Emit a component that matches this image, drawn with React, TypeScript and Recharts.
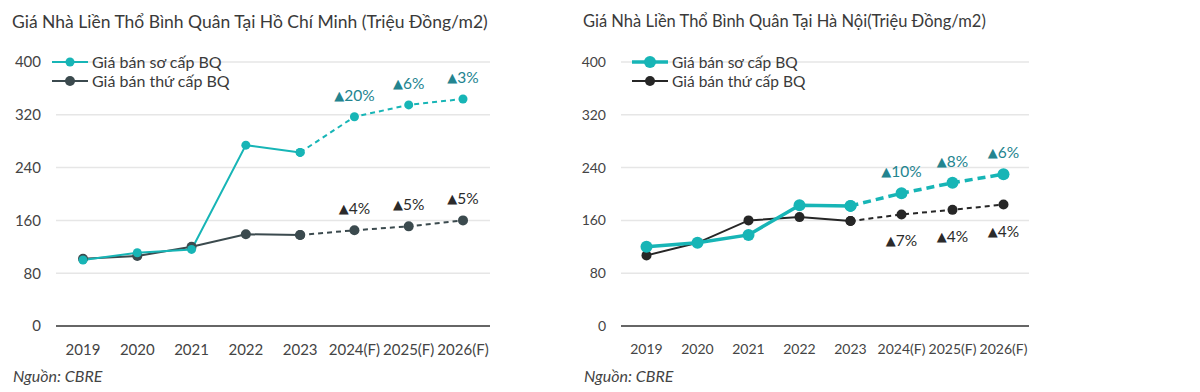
import { LineChart, Line, XAxis, YAxis, CartesianGrid, LabelList } from "recharts";

const years = ["2019", "2020", "2021", "2022", "2023", "2024(F)", "2025(F)", "2026(F)"];
const yTicks = [0, 80, 160, 240, 320, 400];

// Hồ Chí Minh
const hcmPrimary = [100, 111, 116, 274, 263, 317, 335, 344];
const hcmSecondary = [102, 106, 120, 139, 138, 145, 151, 160];
const hcmPrimaryChange = ["", "", "", "", "", "20%", "6%", "3%"];
const hcmSecondaryChange = ["", "", "", "", "", "4%", "5%", "5%"];

// Hà Nội
const hnPrimary = [120, 126, 138, 183, 182, 201, 217, 230];
const hnSecondary = [107, 126, 160, 165, 159, 169, 176, 184];
const hnPrimaryChange = ["", "", "", "", "", "10%", "8%", "6%"];
const hnSecondaryChange = ["", "", "", "", "", "7%", "4%", "4%"];

const LAST_ACTUAL = 4; // 2023
const TEAL = "#17b5b6";
const TEAL_TEXT = "#23848f";
const FONT = "Lato, 'Open Sans', sans-serif";

function buildRows(primary: number[], secondary: number[], pChg: string[], sChg: string[]) {
  return years.map((year, i) => ({
    year,
    pActual: i <= LAST_ACTUAL ? primary[i] : null,
    pForecast: i >= LAST_ACTUAL ? primary[i] : null,
    sActual: i <= LAST_ACTUAL ? secondary[i] : null,
    sForecast: i >= LAST_ACTUAL ? secondary[i] : null,
    pChg: pChg[i],
    sChg: sChg[i],
  }));
}

function changeLabel(color: string, dy: number) {
  return (props: any) => {
    const { x, y, value } = props;
    if (!value) return null;
    return (
      <text
        x={x}
        y={y + dy}
        textAnchor="middle"
        dominantBaseline="central"
        fill={color}
        fontSize={15.5}
        fontFamily={FONT}
      >
        <tspan fontSize={13} fontFamily="DejaVu Sans">▲</tspan>
        <tspan>{value}</tspan>
      </text>
    );
  };
}

interface PanelProps {
  left: number;
  width: number;
  title: string;
  titleSize: number;
  titleTop: number;
  rows: ReturnType<typeof buildRows>;
  axisWidth: number;
  rightMargin: number;
  pad: number;
  tickSize: number;
  darkColor: string;
  primaryWidth: number;
  primaryDot: number;
  secondaryDot: number;
  primaryDash: string;
  secondaryBelow: boolean;
  legendLeft: number;
  legendSize: number;
}

function Panel(p: PanelProps) {
  const textLeft = p.left === 0 ? 12 : 3;
  return (
    <div style={{ position: "absolute", left: p.left, top: 0, width: p.width, height: 392 }}>
      <div
        style={{
          position: "absolute",
          left: textLeft,
          top: p.titleTop,
          fontSize: p.titleSize,
          color: "#3a3a3a",
          whiteSpace: "nowrap",
          lineHeight: 1.2,
        }}
      >
        {p.title}
      </div>
      <LineChart
        width={p.width}
        height={392}
        data={p.rows}
        margin={{ top: 62, right: p.rightMargin, left: 0, bottom: 36 }}
      >
        <CartesianGrid vertical={false} stroke="#e6e6e6" strokeWidth={1.5} />
        <XAxis
          dataKey="year"
          height={30}
          padding={{ left: p.pad, right: p.pad }}
          tickLine={false}
          tickSize={0}
          tickMargin={18}
          axisLine={{ stroke: "#666", strokeWidth: 2 }}
          tick={{ fill: "#444", fontSize: p.tickSize, fontFamily: FONT }}
          interval={0}
        />
        <YAxis
          width={p.axisWidth}
          domain={[0, 400]}
          ticks={yTicks}
          axisLine={false}
          tickLine={false}
          tickSize={0}
          tickMargin={15}
          tick={{ fill: "#444", fontSize: p.tickSize, fontFamily: FONT }}
        />
        <Line
          dataKey="sForecast"
          stroke={p.darkColor}
          strokeWidth={2}
          strokeDasharray="5 4"
          dot={{ r: p.secondaryDot, fill: p.darkColor, stroke: p.darkColor, strokeWidth: 0 }}
          isAnimationActive={false}
        >
          <LabelList dataKey="sChg" content={changeLabel("#2b2b2b", p.secondaryBelow ? 26 : -22)} />
        </Line>
        <Line
          dataKey="sActual"
          stroke={p.darkColor}
          strokeWidth={2}
          dot={{ r: p.secondaryDot, fill: p.darkColor, stroke: p.darkColor, strokeWidth: 0 }}
          isAnimationActive={false}
        />
        <Line
          dataKey="pForecast"
          stroke={TEAL}
          strokeWidth={p.primaryWidth}
          strokeDasharray={p.primaryDash}
          dot={{ r: p.primaryDot, fill: TEAL, stroke: TEAL, strokeWidth: 0 }}
          isAnimationActive={false}
        >
          <LabelList dataKey="pChg" content={changeLabel(TEAL_TEXT, -22)} />
        </Line>
        <Line
          dataKey="pActual"
          stroke={TEAL}
          strokeWidth={p.primaryWidth}
          dot={{ r: p.primaryDot, fill: TEAL, stroke: TEAL, strokeWidth: 0 }}
          isAnimationActive={false}
        />
      </LineChart>
      <div style={{ position: "absolute", left: p.legendLeft, top: 52 }}>
        {[
          { name: "Giá bán sơ cấp BQ", color: TEAL, w: p.primaryWidth, r: p.primaryDot },
          { name: "Giá bán thứ cấp BQ", color: p.darkColor, w: 2, r: p.secondaryDot },
        ].map((item) => (
          <div key={item.name} style={{ display: "flex", alignItems: "center", height: 19 }}>
            <svg width={38} height={14}>
              <line x1={0} y1={7} x2={36} y2={7} stroke={item.color} strokeWidth={item.w} />
              <circle cx={18} cy={7} r={item.r} fill={item.color} />
            </svg>
            <span style={{ fontSize: p.legendSize, color: "#3a3a3a", marginLeft: 2 }}>{item.name}</span>
          </div>
        ))}
      </div>
      <div
        style={{
          position: "absolute",
          left: textLeft + 1,
          top: 366,
          fontSize: 16,
          fontStyle: "italic",
          color: "#444",
        }}
      >
        Nguồn: CBRE
      </div>
    </div>
  );
}

export default function App() {
  const hcmRows = buildRows(hcmPrimary, hcmSecondary, hcmPrimaryChange, hcmSecondaryChange);
  const hnRows = buildRows(hnPrimary, hnSecondary, hnPrimaryChange, hnSecondaryChange);
  return (
    <div
      style={{
        position: "absolute",
        left: 0,
        top: 0,
        width: 1200,
        height: 392,
        background: "#fff",
        fontFamily: FONT,
        overflow: "hidden",
      }}
    >
      <Panel
        left={0}
        width={580}
        title="Giá Nhà Liền Thổ Bình Quân Tại Hồ Chí Minh (Triệu Đồng/m2)"
        titleSize={17.5}
        titleTop={11}
        rows={hcmRows}
        axisWidth={56}
        rightMargin={90}
        pad={27}
        tickSize={15}
        darkColor="#3b4a4e"
        primaryWidth={2}
        primaryDot={4.5}
        secondaryDot={5}
        primaryDash="5 4"
        secondaryBelow={false}
        legendLeft={52}
        legendSize={16}
      />
      <Panel
        left={580}
        width={620}
        title="Giá Nhà Liền Thổ Bình Quân Tại Hà Nội(Triệu Đồng/m2)"
        titleSize={16.5}
        titleTop={12}
        rows={hnRows}
        axisWidth={41}
        rightMargin={171}
        pad={25.5}
        tickSize={14}
        darkColor="#262626"
        primaryWidth={3.5}
        primaryDot={6}
        secondaryDot={5}
        primaryDash="8 5"
        secondaryBelow={true}
        legendLeft={52}
        legendSize={15.5}
      />
    </div>
  );
}
